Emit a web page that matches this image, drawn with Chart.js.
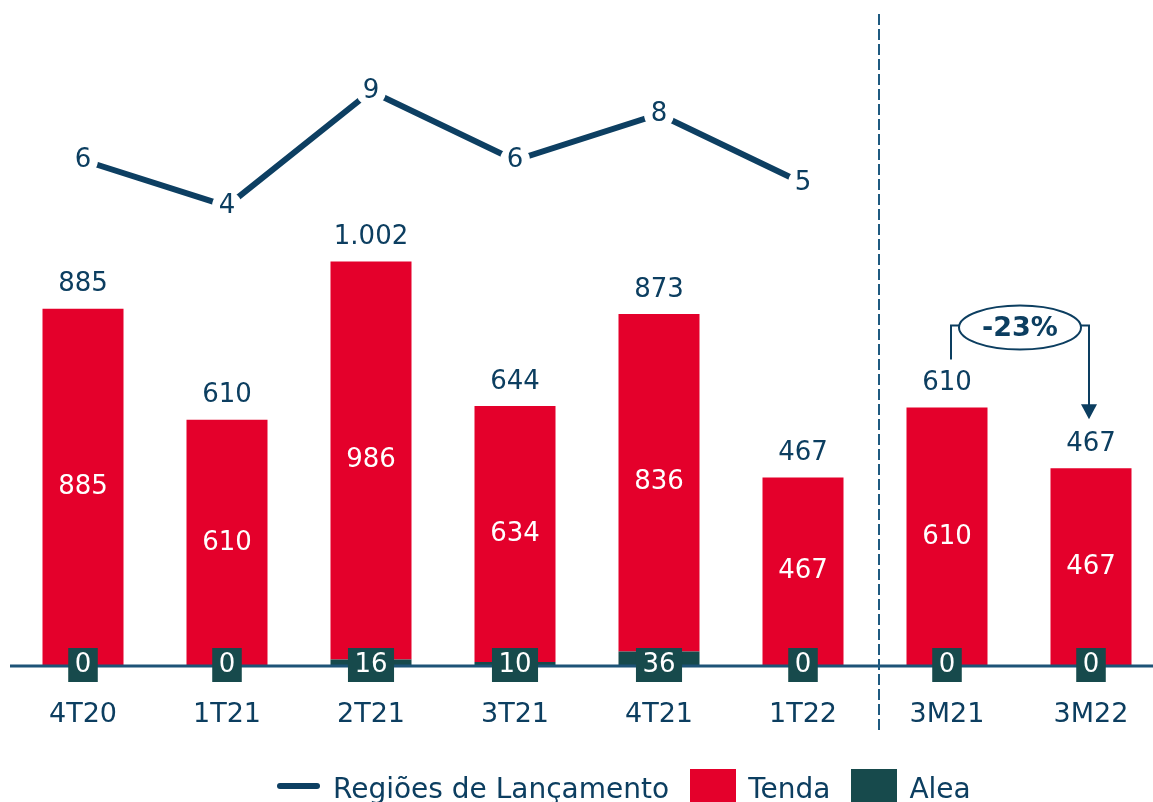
<!DOCTYPE html>
<html lang="pt-BR">
    <head>
        <meta charset="UTF-8">
        <title>Lançamentos Tenda e Alea</title>
        <script src="https://cdn.jsdelivr.net/npm/chart.js"></script>
        <style>
            html, body {
                margin: 0;
                padding: 0;
                background: #ffffff;
                overflow: hidden;
            }
            .wrap {
                position: relative;
                width: 1153px;
                height: 802px;
                overflow: hidden;
            }
            #grafico {
                position: absolute;
                left: 0;
                top: 0;
            }
            .legenda {
                position: absolute;
                left: 277px;
                top: 769px;
                height: 34px;
                display: flex;
                align-items: center;
                font-family: 'DejaVu Sans', sans-serif;
                font-size: 28px;
                color: #0c3e60;
                white-space: nowrap;
            }
            .legenda .linha {
                width: 43px;
                height: 6px;
                border-radius: 3px;
                background: #0d3f62;
                margin-right: 13px;
            }
            .legenda .caixa {
                width: 46px;
                height: 34px;
                margin-right: 12px;
            }
            .legenda .txt { margin-right: 21px; padding-top: 4px; }
        </style>
    </head>
    <body>
        <div class="wrap">
            <canvas id="grafico" width="1163" height="802"></canvas>
            <div class="legenda">
                <span class="linha"></span><span class="txt">Regiões de Lançamento</span>
                <span class="caixa" style="background:#e4002b"></span><span class="txt">Tenda</span>
                <span class="caixa" style="background:#174a4c"></span><span class="txt">Alea</span>
            </div>
        </div>
        <script>
            // dados
            const categorias = ['4T20', '1T21', '2T21', '3T21', '4T21', '1T22', '3M21', '3M22'];
            const tenda = [885, 610, 986, 634, 836, 467, 610, 467];
            const alea = [0, 0, 16, 10, 36, 0, 0, 0];
            const totais = [885, 610, 1002, 644, 873, 467, 610, 467];
            const regioes = [6, 4, 9, 6, 8, 5, null, null];
            const variacao = '-23%';

            const nTrim = 6; // os 6 primeiros são trimestres, os 2 últimos são acumulados
            const soTrim = arr => arr.map((v, i) => i < nTrim ? v : null);
            const soAcum = arr => arr.map((v, i) => i >= nTrim ? v : null);

            const VERMELHO = '#e4002b';
            const VERDE = '#174a4c';
            const AZUL = '#0c3e60';
            const fonte = 'DejaVu Sans, sans-serif';
            const fmt = v => v.toLocaleString('pt-BR');

            const rotulos = {
                id: 'rotulos',
                afterDatasetsDraw(chart) {
                    const ctx = chart.ctx;
                    const area = chart.chartArea;
                    const x = chart.scales.x;
                    ctx.save();

                    // linha do eixo
                    ctx.strokeStyle = '#1d5377';
                    ctx.lineWidth = 3;
                    ctx.beginPath();
                    ctx.moveTo(10, area.bottom);
                    ctx.lineTo(chart.width, area.bottom);
                    ctx.stroke();

                    // separador tracejado
                    const xs = (x.getPixelForValue(nTrim - 1) + x.getPixelForValue(nTrim)) / 2 + 4;
                    ctx.strokeStyle = '#1f5a80';
                    ctx.lineWidth = 2;
                    ctx.setLineDash([11, 4]);
                    ctx.beginPath();
                    ctx.moveTo(xs, 14);
                    ctx.lineTo(xs, 732);
                    ctx.stroke();
                    ctx.setLineDash([]);

                    ctx.textAlign = 'center';
                    ctx.textBaseline = 'middle';
                    ctx.font = '26px ' + fonte;

                    const mTendaQ = chart.getDatasetMeta(2);
                    const mTendaM = chart.getDatasetMeta(4);
                    categorias.forEach((c, i) => {
                        const el = (i < nTrim ? mTendaQ : mTendaM).data[i];
                        if (!el) return;
                        // total acima da barra
                        ctx.fillStyle = AZUL;
                        ctx.fillText(fmt(totais[i]), el.x, el.y - 24);
                        // Tenda no meio
                        ctx.fillStyle = '#ffffff';
                        ctx.fillText(fmt(tenda[i]), el.x, (el.y + el.base) / 2);
                        // Alea na base
                        const t = fmt(alea[i]);
                        const w = ctx.measureText(t).width + 13;
                        ctx.fillStyle = VERDE;
                        ctx.fillRect(el.x - w / 2, area.bottom - 18, w, 34);
                        ctx.fillStyle = '#ffffff';
                        ctx.fillText(t, el.x, area.bottom - 1);
                    });

                    // valores da linha
                    const mLinha = chart.getDatasetMeta(0);
                    ctx.fillStyle = AZUL;
                    mLinha.data.forEach((p, i) => {
                        if (regioes[i] == null) return;
                        ctx.fillText(String(regioes[i]), p.x, p.y);
                    });

                    // variação -23%
                    const y2 = chart.scales.y2;
                    const xa = x.getPixelForValue(6) + 4;
                    const xb = x.getPixelForValue(7) - 2;
                    const topoA = y2.getPixelForValue(totais[6]);
                    const topoB = y2.getPixelForValue(totais[7]);
                    const yb = topoA - 82;
                    const cx = (xa + xb) / 2;
                    ctx.strokeStyle = AZUL;
                    ctx.lineWidth = 2;
                    ctx.beginPath();
                    ctx.moveTo(xa, topoA - 48);
                    ctx.lineTo(xa, yb);
                    ctx.lineTo(xb, yb);
                    ctx.lineTo(xb, topoB - 62);
                    ctx.stroke();
                    ctx.fillStyle = AZUL;
                    ctx.beginPath();
                    ctx.moveTo(xb - 8, topoB - 64);
                    ctx.lineTo(xb + 8, topoB - 64);
                    ctx.lineTo(xb, topoB - 49);
                    ctx.closePath();
                    ctx.fill();
                    ctx.beginPath();
                    ctx.ellipse(cx, yb + 2, 61, 22, 0, 0, Math.PI * 2);
                    ctx.fillStyle = '#ffffff';
                    ctx.fill();
                    ctx.stroke();
                    ctx.fillStyle = AZUL;
                    ctx.font = 'bold 27px ' + fonte;
                    ctx.fillText(variacao, cx, yb + 3);

                    ctx.restore();
                }
            };

            new Chart(document.getElementById('grafico'), {
                data: {
                    labels: categorias,
                    datasets: [{
                        type: 'line',
                        label: 'Regiões de Lançamento',
                        data: regioes,
                        yAxisID: 'y1',
                        borderColor: '#0d3f62',
                        borderWidth: 6,
                        pointRadius: 15,
                        pointHoverRadius: 15,
                        pointBackgroundColor: '#ffffff',
                        pointBorderWidth: 0,
                        tension: 0,
                        order: 0,
                        clip: false
                    }, {
                        type: 'bar',
                        label: 'Alea',
                        data: soTrim(alea),
                        yAxisID: 'y',
                        backgroundColor: VERDE,
                        stack: 's',
                        order: 1
                    }, {
                        type: 'bar',
                        label: 'Tenda',
                        data: soTrim(tenda),
                        yAxisID: 'y',
                        backgroundColor: VERMELHO,
                        stack: 's',
                        order: 1
                    }, {
                        type: 'bar',
                        label: 'Alea',
                        data: soAcum(alea),
                        yAxisID: 'y2',
                        backgroundColor: VERDE,
                        stack: 's',
                        order: 1
                    }, {
                        type: 'bar',
                        label: 'Tenda',
                        data: soAcum(tenda),
                        yAxisID: 'y2',
                        backgroundColor: VERMELHO,
                        stack: 's',
                        order: 1
                    }]
                },
                options: {
                    responsive: false,
                    animation: false,
                    events: [],
                    devicePixelRatio: 1,
                    layout: { autoPadding: false, padding: { left: 11, right: 0, top: 20, bottom: 74 } },
                    datasets: { bar: { barPercentage: 0.5625, categoryPercentage: 1 } },
                    plugins: { legend: { display: false }, tooltip: { enabled: false } },
                    scales: {
                        x: {
                            stacked: true,
                            offset: true,
                            grid: { display: false, drawTicks: false },
                            border: { display: false },
                            ticks: { color: AZUL, font: { family: fonte, size: 27 }, padding: 33 },
                            afterFit(s) { s.height = 62; }
                        },
                        y: { stacked: true, display: false, min: 0, max: 1600 },
                        y2: { stacked: true, display: false, min: 0, max: 1525 },
                        y1: { display: false, min: -16, max: 12.1 }
                    }
                },
                plugins: [rotulos]
            });
        </script>
    </body>
</html>
